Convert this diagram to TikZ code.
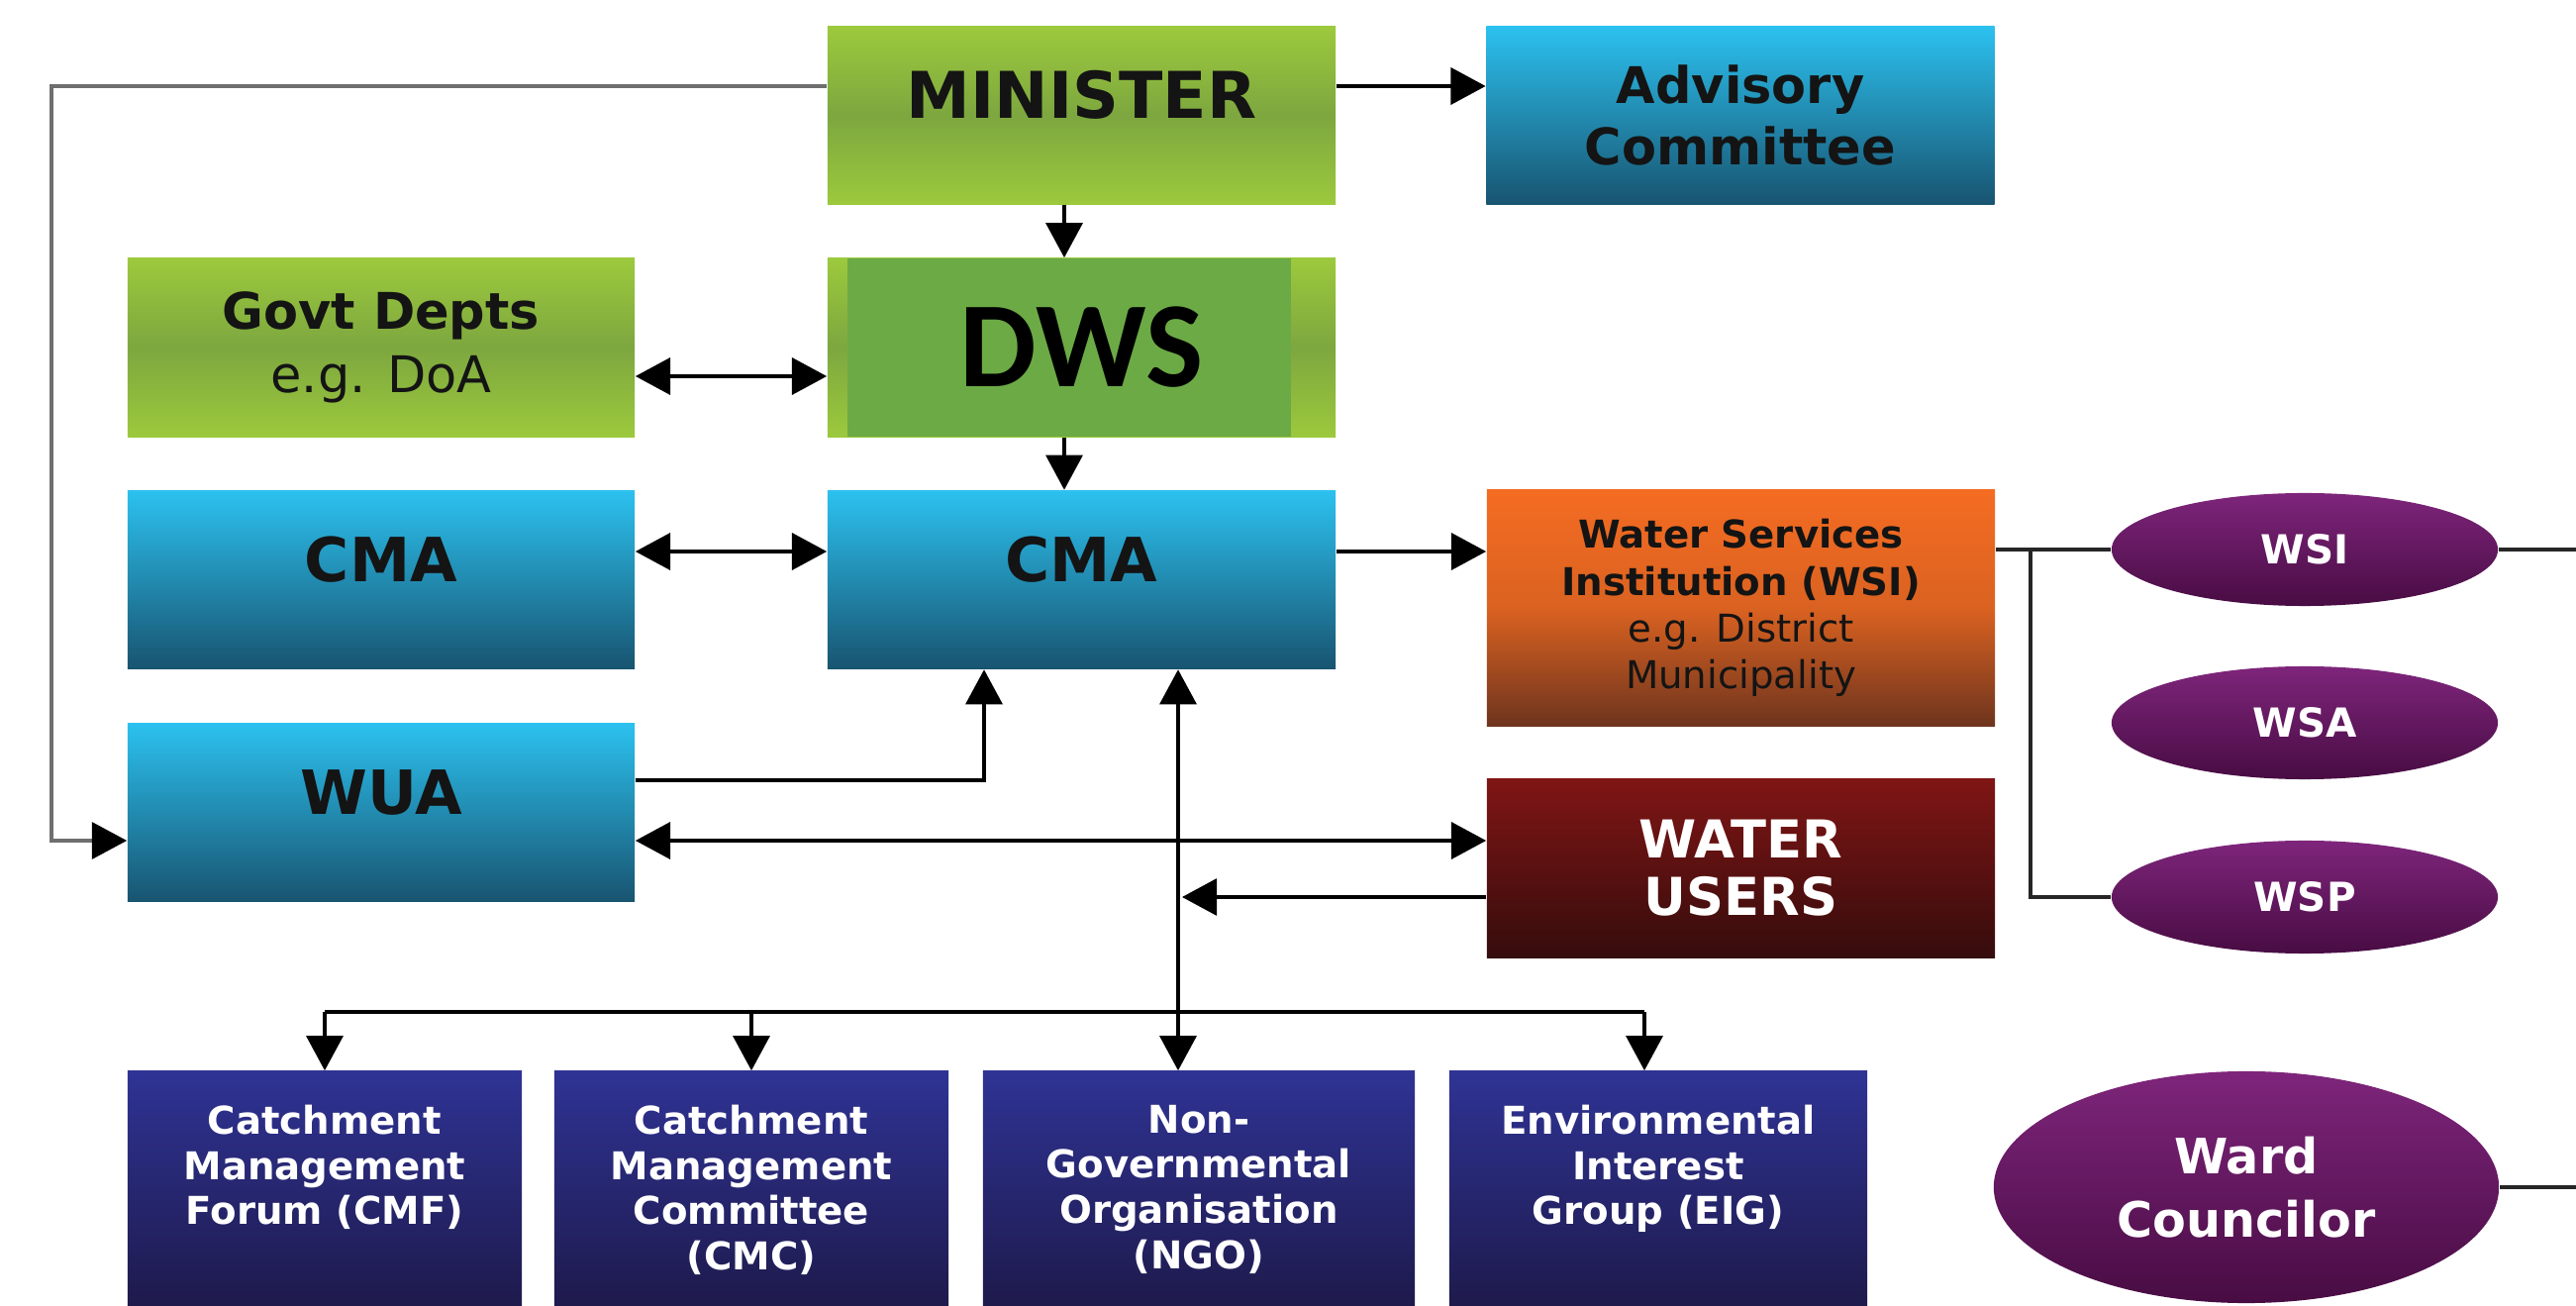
\documentclass[tikz,border=0pt]{standalone}
\usepackage{fontspec}
\setmainfont{DejaVu Sans}
\newfontfamily\calibri{Carlito}
\usetikzlibrary{arrows.meta,shapes.geometric}
\definecolor{grTop}{HTML}{9CC93D}
\definecolor{grMid}{HTML}{7DA73F}
\definecolor{dwsIn}{HTML}{6CAA46}
\definecolor{blTop}{HTML}{2CC1EF}
\definecolor{blBot}{HTML}{185470}
\definecolor{orTop}{HTML}{F46C22}
\definecolor{orMid}{HTML}{DA6221}
\definecolor{orBot}{HTML}{6E341E}
\definecolor{rdTop}{HTML}{801515}
\definecolor{rdBot}{HTML}{350C0C}
\definecolor{nvTop}{HTML}{2F3394}
\definecolor{nvBot}{HTML}{1E1A4C}
\definecolor{puTop}{HTML}{7E257B}
\definecolor{puBot}{HTML}{480C43}
\definecolor{lineGray}{HTML}{6F6F6F}
\definecolor{txtDark}{HTML}{141414}
\begin{document}
\begin{tikzpicture}[x=0.01cm,y=-0.01cm,
  every node/.style={inner sep=0pt},
  rbox/.style={rectangle, minimum width=5.13cm, minimum height=1.8cm, align=center},
  greenbox/.style={rbox, top color=grTop, bottom color=grTop, middle color=grMid},
  bluebox/.style={rbox, top color=blTop, bottom color=blBot},
  navybox/.style={rectangle, minimum height=2.37cm, top color=nvTop, bottom color=nvBot},
  ell/.style={ellipse, minimum width=3.9cm, minimum height=1.14cm, top color=puTop, bottom color=puBot,
     text=white, font=\fontsize{11.5}{13}\selectfont\bfseries},
  bigtxt/.style={font=\fontsize{17.5}{21}\selectfont\bfseries, text=txtDark, text height=13pt, text depth=0.42cm},
  bt/.style={align=center, text=white, font=\fontsize{11}{13}\selectfont\bfseries},
  arr/.style={line width=1.1pt, -{Triangle[length=10pt,width=10.5pt]}},
  darr/.style={line width=1.1pt, {Triangle[length=10pt,width=10.5pt]}-{Triangle[length=10pt,width=10.5pt]}},
  plain/.style={line width=1.1pt},
  thinline/.style={line width=0.9pt, draw=black!85},
  grayline/.style={line width=0.9pt, draw=lineGray, -{Triangle[length=10pt,width=10.5pt,color=black]}}
]
\fill[white] (0,0) rectangle (2602,1319);
\useasboundingbox (0,0) rectangle (2602,1319);

% boxes
\node[greenbox, minimum height=1.79cm, font=\fontsize{18.5}{22}\selectfont\bfseries, text=txtDark,
      text height=13.5pt, text depth=0.42cm] (min) at (1092.5,116.5) {MINISTER};
\node[bluebox, font=\fontsize{14.5}{17.6}\selectfont\bfseries, text=txtDark] (adv) at (1758,116.5) {Advisory\\Committee};
\node[greenbox, minimum width=5.12cm, font=\fontsize{14.5}{18}\selectfont, text=txtDark] (gov) at (385,351) {\textbf{Govt Depts}\\e.g. DoA};
\node[greenbox, path picture={\fill[dwsIn] ([xshift=0.2cm]path picture bounding box.north west) rectangle ([xshift=-0.45cm]path picture bounding box.south east);},
      font=\calibri\fontsize{35}{40}\selectfont\bfseries, text=black] (dws) at (1092.5,351) {DWS};
\node[bluebox, minimum width=5.12cm, bigtxt] (cmal) at (385,585.5) {CMA};
\node[bluebox, bigtxt] (cmac) at (1092.5,585.5) {CMA};
\node[bluebox, minimum width=5.12cm, bigtxt] (wua) at (385,820.5) {WUA};
\node[rbox, minimum height=2.38cm, top color=orTop, bottom color=orBot, middle color=orMid,
      font=\fontsize{11}{13.4}\selectfont, text=txtDark] (wsib) at (1758.5,614)
      {\textbf{Water Services}\\\textbf{Institution (WSI)}\\e.g. District\\Municipality};
\node[rbox, top color=rdTop, bottom color=rdBot, text=white, font=\fontsize{15}{16.5}\selectfont\bfseries] (wu) at (1758.5,877) {WATER\\USERS};

% ellipses
\node[ell] (ewsi) at (2328,555) {WSI};
\node[ell] (ewsa) at (2328,730) {WSA};
\node[ell] (ewsp) at (2328,906) {WSP};
\node[ellipse, minimum width=5.1cm, minimum height=2.34cm, top color=puTop, bottom color=puBot, align=center,
      text=white, font=\fontsize{14}{18}\selectfont\bfseries] (ward) at (2269,1199) {Ward\\Councilor};

% bottom boxes
\node[navybox, minimum width=3.98cm] (cmf) at (328,1200.5) {};
\node[navybox, minimum width=3.98cm] (cmc) at (759,1200.5) {};
\node[navybox, minimum width=4.36cm] (ngo) at (1211,1200.5) {};
\node[navybox, minimum width=4.22cm] (eig) at (1675,1200.5) {};
\node[bt, anchor=north] (tcmf) at ([yshift=-0.34cm]cmf.north) {Catchment\\Management\\Forum (CMF)};
\node[bt, anchor=north] (tcmc) at ([yshift=-0.34cm]cmc.north) {Catchment\\Management\\Committee\\(CMC)};
\node[bt, anchor=north] (tngo) at ([yshift=-0.34cm]ngo.north) {Non-\\Governmental\\Organisation\\(NGO)};
\node[bt, anchor=north] (teig) at ([yshift=-0.34cm]eig.north) {Environmental\\Interest\\Group (EIG)};

% helper coordinates
\coordinate (gL) at (52,87);
\coordinate (gB) at (52,849);
\coordinate (yA) at (0,87);
\coordinate (xM) at (1075,0);
\coordinate (yG) at (0,380);
\coordinate (yC) at (0,557);
\coordinate (w1) at (994,788);
\coordinate (xV) at (1190,0);
\coordinate (bus) at (0,1022);
\coordinate (bR) at (1661,1022);
\coordinate (yU) at (1194,906);
\coordinate (xB) at (2051,0);
\coordinate (edge) at (2602,0);

% connectors
\draw[grayline] (min.west |- gL) -- (gL) -- (gB) -- (wua.west |- gB);
\draw[arr] (min.east |- yA) -- (adv.west |- yA);
\draw[arr] (min.south -| xM) -- (dws.north -| xM);
\draw[darr] (gov.east |- yG) -- (dws.west |- yG);
\draw[arr] (dws.south -| xM) -- (cmac.north -| xM);
\draw[darr] (cmal.east |- yC) -- (cmac.west |- yC);
\draw[arr] (cmac.east |- yC) -- (wsib.west |- yC);
\draw[arr] (wua.east |- w1) -- (w1) -- (cmac.south -| w1);
\draw[darr] (cmac.south -| xV) -- (ngo.north -| xV);
\draw[plain] (cmf.north |- bus) -- (bR);
\draw[arr] (cmf.north |- bus) -- (cmf.north);
\draw[arr] (cmc.north |- bus) -- (cmc.north);
\draw[arr] (bR) -- (eig.north -| bR);
\draw[darr] (wua.east |- gB) -- (wu.west |- gB);
\draw[arr] (wu.west |- yU) -- (yU);
\draw[thinline] (wsib.east |- ewsi.west) -- (ewsi.west);
\draw[thinline] (xB |- ewsi.west) -- (xB |- ewsp.west) -- (ewsp.west);
\draw[thinline] (ewsi.east) -- (ewsi.east -| edge);
\draw[thinline] (ward.east) -- (ward.east -| edge);
\end{tikzpicture}
\end{document}
